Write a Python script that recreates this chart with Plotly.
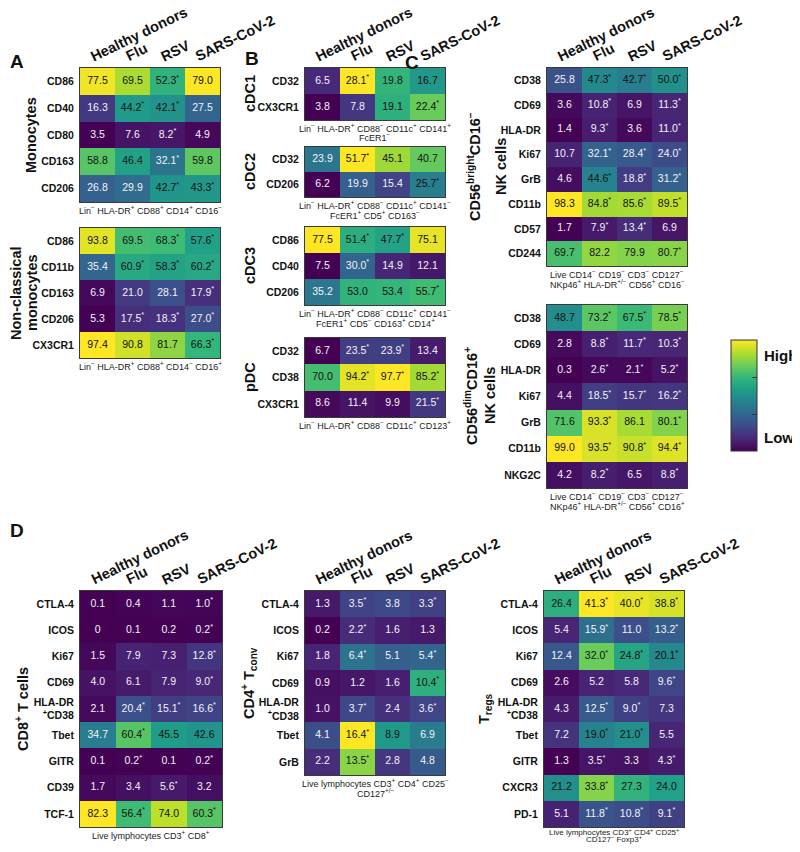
import plotly.graph_objects as go

# the page body keeps an 8px margin, so the figure is a little smaller
# and all layout pixel positions below are page coordinates
OFF = 8
W, H = 784, 836
FONT = "Liberation Sans, Arial, sans-serif"

cols = ["Healthy donors", "Flu", "RSV", "SARS-CoV-2"]

# ---- Panel A: monocytes ----
mono_rows = ["CD86", "CD40", "CD80", "CD163", "CD206"]
mono_vals = [[77.5, 69.5, 52.3, 79.0],
             [16.3, 44.2, 42.1, 27.5],
             [3.5, 7.6, 8.2, 4.9],
             [58.8, 46.4, 32.1, 59.8],
             [26.8, 29.9, 42.7, 43.3]]
mono_sig = [[0, 0, 1, 0], [0, 1, 1, 0], [0, 0, 1, 0], [0, 0, 1, 0], [0, 0, 1, 1]]

ncm_rows = ["CD86", "CD11b", "CD163", "CD206", "CX3CR1"]
ncm_vals = [[93.8, 69.5, 68.3, 57.6],
            [35.4, 60.9, 58.3, 60.2],
            [6.9, 21.0, 28.1, 17.9],
            [5.3, 17.5, 18.3, 27.0],
            [97.4, 90.8, 81.7, 66.3]]
ncm_sig = [[0, 0, 1, 1], [0, 1, 1, 1], [0, 0, 0, 1], [0, 1, 1, 1], [0, 0, 0, 1]]

# ---- Panel B: dendritic cells ----
cdc1_rows = ["CD32", "CX3CR1"]
cdc1_vals = [[6.5, 28.1, 19.8, 16.7],
             [3.8, 7.8, 19.1, 22.4]]
cdc1_sig = [[0, 1, 0, 0], [0, 0, 0, 1]]

cdc2_rows = ["CD32", "CD206"]
cdc2_vals = [[23.9, 51.7, 45.1, 40.7],
             [6.2, 19.9, 15.4, 25.7]]
cdc2_sig = [[0, 1, 0, 0], [0, 0, 0, 1]]

cdc3_rows = ["CD86", "CD40", "CD206"]
cdc3_vals = [[77.5, 51.4, 47.7, 75.1],
             [7.5, 30.0, 14.9, 12.1],
             [35.2, 53.0, 53.4, 55.7]]
cdc3_sig = [[0, 1, 1, 0], [0, 1, 0, 0], [0, 0, 0, 1]]

pdc_rows = ["CD32", "CD38", "CX3CR1"]
pdc_vals = [[6.7, 23.5, 23.9, 13.4],
            [70.0, 94.2, 97.7, 85.2],
            [8.6, 11.4, 9.9, 21.5]]
pdc_sig = [[0, 1, 1, 0], [0, 1, 1, 1], [0, 0, 0, 1]]

# ---- Panel C: NK cells ----
nkbr_rows = ["CD38", "CD69", "HLA-DR", "Ki67", "GrB", "CD11b", "CD57", "CD244"]
nkbr_vals = [[25.8, 47.3, 42.7, 50.0],
             [3.6, 10.8, 6.9, 11.3],
             [1.4, 9.3, 3.6, 11.0],
             [10.7, 32.1, 28.4, 24.0],
             [4.6, 44.6, 18.8, 31.2],
             [98.3, 84.8, 85.6, 89.5],
             [1.7, 7.9, 13.4, 6.9],
             [69.7, 82.2, 79.9, 80.7]]
nkbr_sig = [[0, 1, 1, 1], [0, 1, 0, 1], [0, 1, 0, 1], [0, 1, 1, 1],
            [0, 1, 1, 1], [0, 1, 1, 1], [0, 1, 1, 0], [0, 0, 0, 1]]

nkdim_rows = ["CD38", "CD69", "HLA-DR", "Ki67", "GrB", "CD11b", "NKG2C"]
nkdim_vals = [[48.7, 73.2, 67.5, 78.5],
              [2.8, 8.8, 11.7, 10.3],
              [0.3, 2.6, 2.1, 5.2],
              [4.4, 18.5, 15.7, 16.2],
              [71.6, 93.3, 86.1, 80.1],
              [99.0, 93.5, 90.8, 94.4],
              [4.2, 8.2, 6.5, 8.8]]
nkdim_sig = [[0, 1, 1, 1], [0, 1, 1, 1], [0, 1, 1, 1], [0, 1, 1, 1],
             [0, 1, 0, 1], [0, 1, 1, 1], [0, 1, 0, 1]]

# ---- Panel D: T cells ----
cd8_rows = ["CTLA-4", "ICOS", "Ki67", "CD69", "HLA-DR +CD38", "Tbet", "GITR", "CD39", "TCF-1"]
cd8_vals = [[0.1, 0.4, 1.1, 1.0],
            [0.0, 0.1, 0.2, 0.2],
            [1.5, 7.9, 7.3, 12.8],
            [4.0, 6.1, 7.9, 9.0],
            [2.1, 20.4, 15.1, 16.6],
            [34.7, 60.4, 45.5, 42.6],
            [0.1, 0.2, 0.1, 0.2],
            [1.7, 3.4, 5.6, 3.2],
            [82.3, 56.4, 74.0, 60.3]]
cd8_sig = [[0, 0, 0, 1], [0, 0, 0, 1], [0, 0, 0, 1], [0, 0, 0, 1], [0, 1, 1, 1],
           [0, 1, 0, 0], [0, 1, 0, 1], [0, 0, 1, 0], [0, 1, 0, 1]]

cd4_rows = ["CTLA-4", "ICOS", "Ki67", "CD69", "HLA-DR +CD38", "Tbet", "GrB"]
cd4_vals = [[1.3, 3.5, 3.8, 3.3],
            [0.2, 2.2, 1.6, 1.3],
            [1.8, 6.4, 5.1, 5.4],
            [0.9, 1.2, 1.6, 10.4],
            [1.0, 3.7, 2.4, 3.6],
            [4.1, 16.4, 8.9, 6.9],
            [2.2, 13.5, 2.8, 4.8]]
cd4_sig = [[0, 1, 0, 1], [0, 1, 0, 0], [0, 1, 0, 1], [0, 0, 0, 1],
           [0, 1, 0, 1], [0, 1, 0, 0], [0, 1, 0, 0]]

treg_rows = ["CTLA-4", "ICOS", "Ki67", "CD69", "HLA-DR +CD38", "Tbet", "GITR", "CXCR3", "PD-1"]
treg_vals = [[26.4, 41.3, 40.0, 38.8],
             [5.4, 15.9, 11.0, 13.2],
             [12.4, 32.0, 24.8, 20.1],
             [2.6, 5.2, 5.8, 9.6],
             [4.3, 12.5, 9.0, 7.3],
             [7.2, 19.0, 21.0, 5.5],
             [1.3, 3.5, 3.3, 4.3],
             [21.2, 33.8, 27.3, 24.0],
             [5.1, 11.8, 10.8, 9.1]]
treg_sig = [[0, 1, 1, 1], [0, 1, 0, 1], [0, 1, 1, 1], [0, 0, 0, 1], [0, 1, 1, 0],
            [0, 1, 1, 0], [0, 1, 0, 1], [0, 1, 0, 0], [0, 1, 1, 1]]


def px(x):
    return (x - OFF) / W


def py(y):
    return 1 - (y - OFF) / H


# name, rows, vals, sig, pixel box (x0, x1, y0, y1), subtitle lines, header?
panels = [
    ("mono", mono_rows, mono_vals, mono_sig, (80, 220, 68, 202),
     ["Lin<sup>−</sup> HLA-DR<sup>+</sup> CD88<sup>+</sup> CD14<sup>+</sup> CD16<sup>−</sup>"], True),
    ("ncm", ncm_rows, ncm_vals, ncm_sig, (80, 220, 228, 358),
     ["Lin<sup>−</sup> HLA-DR<sup>+</sup> CD88<sup>+</sup> CD14<sup>−</sup> CD16<sup>+</sup>"], False),
    ("cdc1", cdc1_rows, cdc1_vals, cdc1_sig, (305, 445, 68, 120),
     ["Lin<sup>−</sup> HLA-DR<sup>+</sup> CD88<sup>−</sup> CD11c<sup>+</sup> CD141<sup>+</sup>",
      "FcER1<sup>−</sup>"], True),
    ("cdc2", cdc2_rows, cdc2_vals, cdc2_sig, (305, 445, 147, 197),
     ["Lin<sup>−</sup> HLA-DR<sup>+</sup> CD88<sup>−</sup> CD11c<sup>+</sup> CD141<sup>−</sup>",
      "FcER1<sup>+</sup> CD5<sup>+</sup> CD163<sup>−</sup>"], False),
    ("cdc3", cdc3_rows, cdc3_vals, cdc3_sig, (305, 445, 227, 305),
     ["Lin<sup>−</sup> HLA-DR<sup>+</sup> CD88<sup>−</sup> CD11c<sup>+</sup> CD141<sup>−</sup>",
      "FcER1<sup>+</sup> CD5<sup>−</sup> CD163<sup>+</sup> CD14<sup>+</sup>"], False),
    ("pdc", pdc_rows, pdc_vals, pdc_sig, (305, 445, 338, 417),
     ["Lin<sup>−</sup> HLA-DR<sup>+</sup> CD88<sup>−</sup> CD11c<sup>+</sup> CD123<sup>+</sup>"], False),
    ("nkbr", nkbr_rows, nkbr_vals, nkbr_sig, (547, 687, 68, 266),
     ["Live CD14<sup>−</sup> CD19<sup>−</sup> CD3<sup>−</sup> CD127<sup>−</sup>",
      "NKp46<sup>+</sup> HLA-DR<sup>+/−</sup> CD56<sup>+</sup> CD16<sup>−</sup>"], True),
    ("nkdim", nkdim_rows, nkdim_vals, nkdim_sig, (547, 687, 305, 488),
     ["Live CD14<sup>−</sup> CD19<sup>−</sup> CD3<sup>−</sup> CD127<sup>−</sup>",
      "NKp46<sup>+</sup> HLA-DR<sup>+/−</sup> CD56<sup>+</sup> CD16<sup>+</sup>"], False),
    ("cd8", cd8_rows, cd8_vals, cd8_sig, (80, 222, 591, 827),
     ["Live lymphocytes CD3<sup>+</sup> CD8<sup>+</sup>"], True),
    ("cd4", cd4_rows, cd4_vals, cd4_sig, (305, 445, 591, 775),
     ["Live lymphocytes CD3<sup>+</sup> CD4<sup>+</sup> CD25<sup>−</sup>",
      "CD127<sup>+/−</sup>"], True),
    ("treg", treg_rows, treg_vals, treg_sig, (544, 684, 591, 827),
     ["Live lymphocytes CD3<sup>+</sup> CD4<sup>+</sup> CD25<sup>+</sup>",
      "CD127<sup>−</sup> Foxp3<sup>+</sup>"], True),
]

fig = go.Figure()
annotations = []
layout_axes = {}

for i, (name, rows, vals, sig, box, sub, header) in enumerate(panels):
    n = i + 1
    xa = "x" if n == 1 else f"x{n}"
    ya = "y" if n == 1 else f"y{n}"
    x0, x1, y0, y1 = box

    # each block is coloured on its own min..max range
    flat = [v for r in vals for v in r]
    lo, hi = min(flat), max(flat)
    znorm = [[(v - lo) / (hi - lo) for v in r] for r in vals]

    fig.add_trace(go.Heatmap(
        z=znorm, x=cols, y=rows, coloraxis="coloraxis",
        customdata=vals, hovertemplate="%{y} %{x}: %{customdata}<extra></extra>",
        xaxis=xa, yaxis=ya))

    tx, ty, tt, tc = [], [], [], []
    for ri, r in enumerate(rows):
        for ci, c in enumerate(cols):
            v = vals[ri][ci]
            s = "0" if v == 0 else f"{v:.1f}"
            if sig[ri][ci]:
                s += "<sup>*</sup>"
            tx.append(c)
            ty.append(r)
            tt.append(s)
            tc.append("#111111" if znorm[ri][ci] >= 0.425 else "#f4f2f8")
    fig.add_trace(go.Scatter(
        x=tx, y=ty, text=tt, mode="text", textposition="middle center",
        textfont=dict(size=10.5, color=tc, family=FONT),
        hoverinfo="skip", showlegend=False, xaxis=xa, yaxis=ya))

    key = "" if n == 1 else str(n)
    layout_axes["xaxis" + key] = dict(
        domain=[px(x0), px(x1)], anchor=ya, showticklabels=False, ticks="",
        showgrid=False, zeroline=False, showline=True, mirror=True,
        linecolor="#3a3a3a", linewidth=1, fixedrange=True)
    ticktext = []
    for r in rows:
        if r == "HLA-DR +CD38":
            ticktext.append("<b>HLA-DR<br><sup>+</sup>CD38</b>")
        else:
            ticktext.append(f"<b>{r}</b>")
    layout_axes["yaxis" + key] = dict(
        domain=[py(y1), py(y0)], anchor=xa, autorange="reversed",
        tickmode="array", tickvals=rows, ticktext=ticktext, ticks="",
        tickfont=dict(size=10.5, color="#111", family=FONT), ticklabelstandoff=3,
        showgrid=False, zeroline=False, showline=True, mirror=True,
        linecolor="#3a3a3a", linewidth=1, fixedrange=True)

    # subtitle lines under the map (the last block sits right at the page foot)
    step = 9.5
    first = y1 + 8
    size = 9
    if y1 + 8 + step * (len(sub) - 1) > 835:
        first, step, size = y1 + 4.5, 7.5, 8
    for li, line in enumerate(sub):
        annotations.append(dict(
            x=px((x0 + x1) / 2), y=py(first + li * step), xref="paper", yref="paper",
            text=line, showarrow=False, xanchor="center", yanchor="middle",
            font=dict(size=size, color="#222", family=FONT)))

    # rotated column headers
    if header:
        cw = (x1 - x0) / 4
        for ci, c in enumerate(cols):
            sx = x0 + (ci + 0.5) * cw - 4
            annotations.append(dict(
                x=px(sx - 8), y=py(y0 - 1), xref="paper", yref="paper",
                text=f"<b>{c}</b>", showarrow=False, textangle=-26,
                xanchor="left", yanchor="bottom",
                font=dict(size=14.5, color="#111", family=FONT)))

# group labels (rotated)
groups = [
    ("Monocytes", 31, 135),
    ("Non-classical", 16, 293),
    ("monocytes", 32, 293),
    ("cDC1", 250, 94),
    ("cDC2", 250, 172),
    ("cDC3", 250, 266),
    ("pDC", 250, 377),
    ("CD56<sup>bright</sup>CD16<sup>−</sup>", 474, 167),
    ("NK cells", 501, 167),
    ("CD56<sup>dim</sup>CD16<sup>+</sup>", 471, 396),
    ("NK cells", 490, 396),
    ("CD8<sup>+</sup> T cells", 22, 709),
    ("CD4<sup>+</sup> T<sub>conv</sub>", 249, 683),
    ("T<sub>regs</sub>", 485, 709),
]
for txt, gx, gy in groups:
    annotations.append(dict(
        x=px(gx), y=py(gy), xref="paper", yref="paper", text=f"<b>{txt}</b>",
        showarrow=False, textangle=-90, xanchor="center", yanchor="middle",
        font=dict(size=14.5, color="#111", family=FONT)))

# panel letters
for txt, lx, ly in [("A", 17, 61), ("B", 252, 58), ("C", 412, 63), ("D", 17, 530)]:
    annotations.append(dict(
        x=px(lx), y=py(ly), xref="paper", yref="paper", text=f"<b>{txt}</b>",
        showarrow=False, xanchor="center", yanchor="middle",
        font=dict(size=19, color="#111", family=FONT)))

# colour bar labels
for txt, ly in [("High", 355), ("Low", 437)]:
    annotations.append(dict(
        x=px(762), y=py(ly), xref="paper", yref="paper", text=f"<b>{txt}</b>",
        showarrow=False, xanchor="left", yanchor="middle",
        font=dict(size=15, color="#111", family=FONT)))

shapes = []
for ty_ in (377, 414):
    shapes.append(dict(type="line", xref="paper", yref="paper",
                       x0=px(731), x1=px(736), y0=py(ty_), y1=py(ty_),
                       line=dict(color="#333", width=1)))

fig.update_layout(
    width=W, height=H,
    margin=dict(l=0, r=0, t=0, b=0),
    paper_bgcolor="white", plot_bgcolor="white",
    showlegend=False,
    font=dict(family=FONT),
    coloraxis=dict(
        colorscale="Viridis", cmin=0, cmax=1,
        colorbar=dict(
            x=px(731), xanchor="left", y=py(395.5), yanchor="middle",
            len=111, lenmode="pixels", thickness=26, thicknessmode="pixels",
            outlinewidth=1, outlinecolor="#333", xpad=0, ypad=0,
            tickvals=[1 / 3, 2 / 3], ticks="inside", ticklen=5,
            tickcolor="#333", showticklabels=False)),
    annotations=annotations,
    shapes=shapes,
    **layout_axes,
)

fig.write_html("out.html")
